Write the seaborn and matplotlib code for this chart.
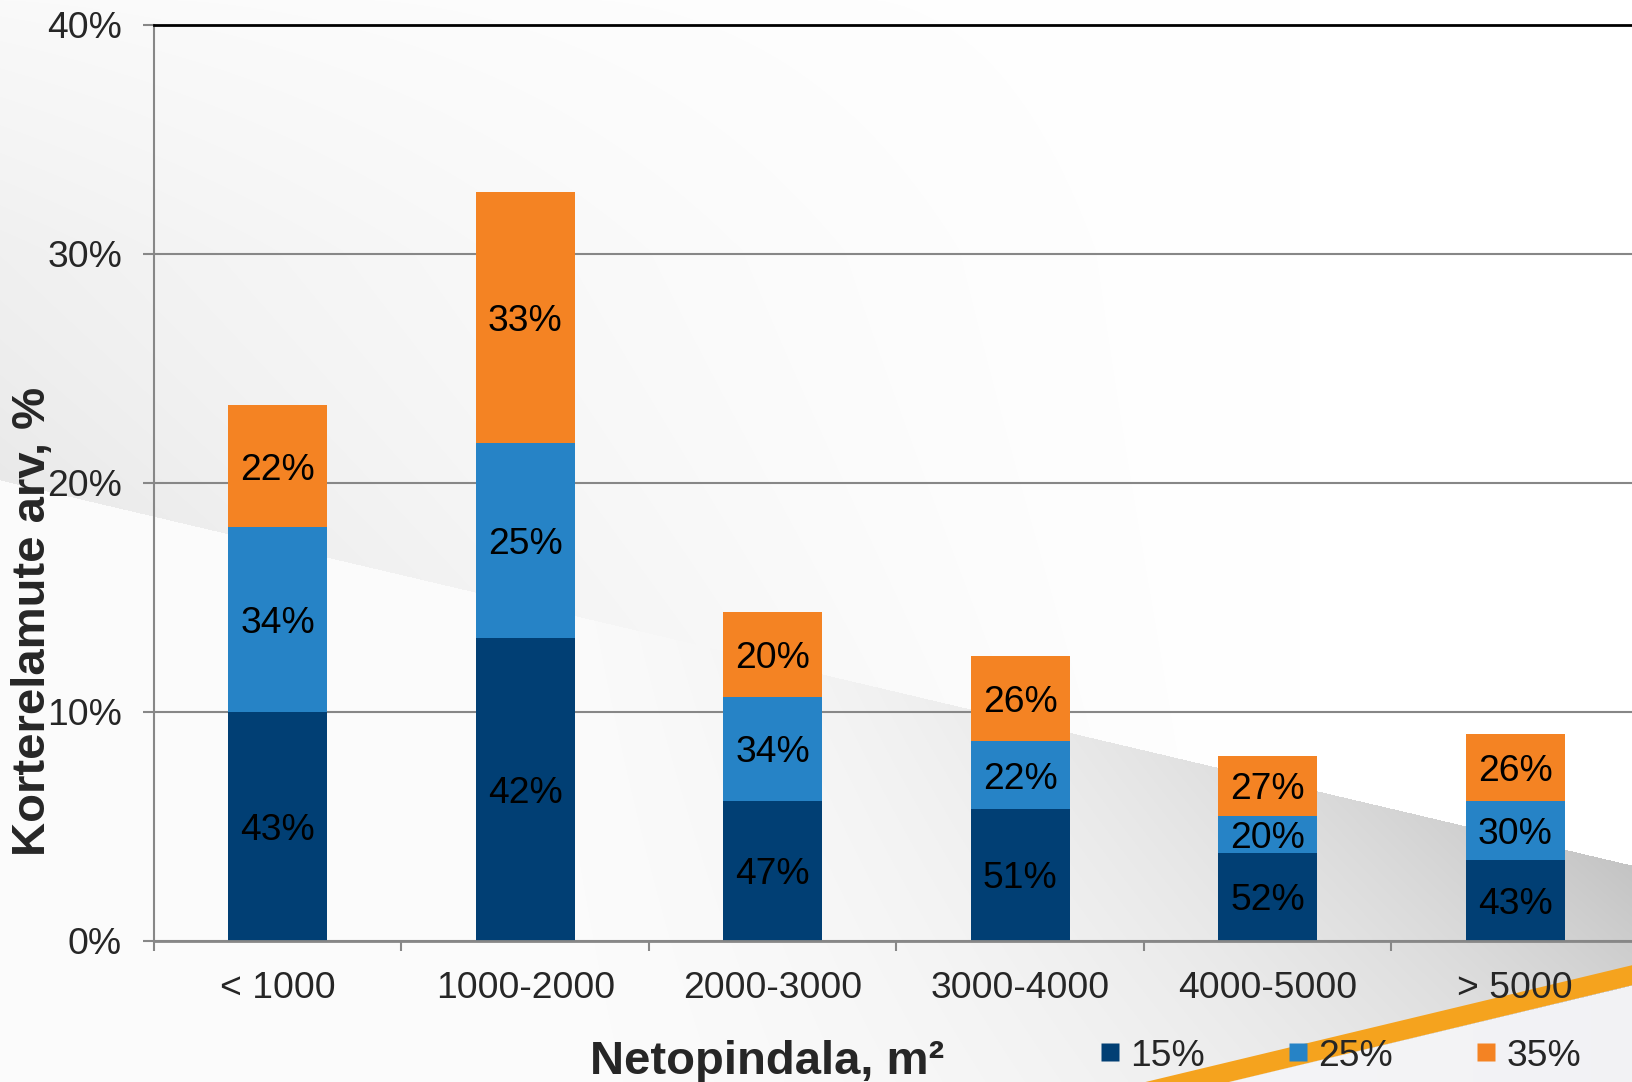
import numpy as np
import matplotlib
matplotlib.use("Agg")
import matplotlib.pyplot as plt
from matplotlib.lines import Line2D
from matplotlib.patches import Polygon
import seaborn as sns

# ---- data -------------------------------------------------------------
categories = ["< 1000", "1000-2000", "2000-3000", "3000-4000", "4000-5000", "> 5000"]
series_names = ["15%", "25%", "35%"]

# segment heights, % of apartment buildings
seg_15 = [10.0, 13.2, 6.1, 5.77, 3.85, 3.54]
seg_25 = [8.05, 8.55, 4.55, 2.93, 1.61, 2.56]
seg_35 = [5.35, 10.95, 3.7, 3.72, 2.61, 2.91]

# in-bar labels (share within each size class)
lab_15 = [43, 42, 47, 51, 52, 43]
lab_25 = [34, 25, 34, 22, 20, 30]
lab_35 = [22, 33, 20, 26, 27, 26]

y_ticks = [0, 10, 20, 30, 40]
colors = ["#013F74", "#2683C6", "#F48323"]

# ---- style ------------------------------------------------------------
sns.set_style("white")
plt.rcParams["font.family"] = ["Liberation Sans", "DejaVu Sans"]

W, H = 1633, 1082
fig = plt.figure(figsize=(W / 100, H / 100), dpi=100)

# ---- decorative slide background ---------------------------------------
bg = fig.add_axes([0, 0, 1, 1], zorder=0)
yy, xx = np.mgrid[0:H, 0:W].astype(float)
edge = 480 + 0.236 * xx
d = yy - edge
fade_x = np.clip(1 - xx / 1300, 0, 1) ** 1.3
fade_top = np.clip(yy / 250, 0, 1) ** 0.7
g_above = 0.085 * fade_x * (0.35 + 0.65 * np.exp(d / 350)) * (0.45 + 0.55 * fade_top)
bx = np.clip((xx - 450) / 1183, 0, 1) ** 1.6
g_below = 0.22 * bx * np.exp(-np.clip(d, 0, None) / 450) + 0.012
g = np.where(d < 0, g_above, g_below)
stripe_c = 975 + 0.24 * (W - xx)
low = yy > stripe_c + 10
g = np.where(low, 0.02 + 0.03 * xx / W, g)
img = np.clip(1 - g, 0, 1)
rgb = np.dstack([img, img, np.clip(img + np.where(low, 0.01, 0), 0, 1)])
bg.imshow(rgb, extent=[0, W, H, 0], aspect="auto", interpolation="bilinear")
xs = np.linspace(1100, W, 50)
yc = 975 + 0.24 * (W - xs)
stripe = np.concatenate([np.column_stack([xs, yc - 10]),
                         np.column_stack([xs[::-1], (yc + 10)[::-1]])])
bg.add_patch(Polygon(stripe, closed=True, facecolor="#F5A31E", edgecolor="none"))
bg.set_xlim(0, W)
bg.set_ylim(H, 0)
bg.axis("off")

# ---- chart axes ----------------------------------------------------------
x0, x1 = 154, 1639
y0, y1 = 940.7, 24.7
ax = fig.add_axes([x0 / W, (H - y0) / H, (x1 - x0) / W, (y0 - y1) / H], zorder=1)
ax.patch.set_alpha(0)

segs = np.array([seg_15, seg_25, seg_35])
tops = np.cumsum(segs, axis=0)

# stacked bars: draw the cumulative totals from the tallest down
for i in [2, 1, 0]:
    sns.barplot(x=categories, y=tops[i], order=categories, color=colors[i],
                saturation=1, width=0.4, edgecolor="none", linewidth=0, ax=ax,
                zorder=2)

labels = [lab_15, lab_25, lab_35]
for i in range(3):
    bottoms = tops[i] - segs[i]
    for j, cat in enumerate(categories):
        ax.text(j, bottoms[j] + segs[i][j] / 2, f"{labels[i][j]}%",
                ha="center", va="center_baseline", fontsize=26.8,
                color="black", zorder=3)

ax.set_xlim(-0.5, 5.5)
ax.set_ylim(0, 40)
ax.set_yticks(y_ticks)
ax.set_yticklabels([f"{v}%" for v in y_ticks])
ax.set_xlabel("")
ax.set_ylabel("")

ax.set_axisbelow(True)
ax.yaxis.grid(True, color="#878787", linewidth=1.5)
ax.xaxis.grid(False)

for s in ["left", "bottom"]:
    ax.spines[s].set_visible(True)
    ax.spines[s].set_color("#878787")
ax.spines["left"].set_linewidth(1.5)
ax.spines["bottom"].set_linewidth(2)
ax.spines["top"].set_visible(True)
ax.spines["top"].set_color("black")
ax.spines["top"].set_linewidth(2)
ax.spines["right"].set_visible(False)

ax.set_xticks(np.arange(-0.5, 6.0, 1.0), minor=True)
ax.tick_params(axis="x", which="major", length=0, pad=22, labelsize=26.8)
ax.tick_params(axis="x", which="minor", length=7.5, width=1.5, color="#878787",
               direction="out", bottom=True)
ax.tick_params(axis="y", which="major", length=8, width=1.5, color="#878787",
               pad=15, labelsize=26.8, left=True)

# ---- axis titles and legend ----------------------------------------------
fig.text(33 / W, 1 - 621 / H, "Korterelamute arv, %", rotation=90,
         ha="center", va="center", fontsize=34, fontweight="bold")
fig.text(767 / W, 1 - 1074 / H, "Netopindala, m²", ha="center",
         va="baseline", fontsize=34, fontweight="bold")

handles = [Line2D([], [], linestyle="none", marker="s", markersize=13,
                  markerfacecolor=c, markeredgecolor="none") for c in colors]
fig.legend(handles, series_names, loc="center", ncol=3, frameon=False,
           bbox_to_anchor=(1340 / W, 1 - 1056 / H), fontsize=26.8,
           handlelength=0.6, handletextpad=0.25, columnspacing=2.2,
           borderpad=0, borderaxespad=0)

fig.savefig("out.png", dpi=100)
